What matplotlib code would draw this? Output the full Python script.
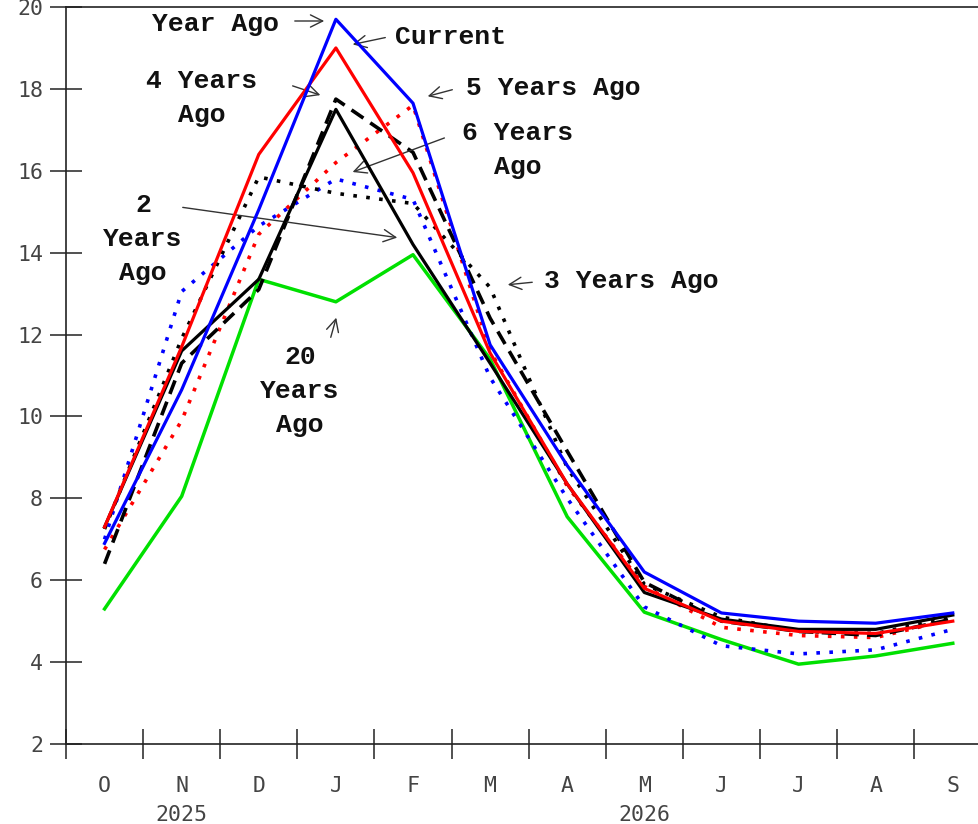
import matplotlib
matplotlib.use("Agg")
import matplotlib.pyplot as plt

months = ["O", "N", "D", "J", "F", "M", "A", "M", "J", "J", "A", "S"]
years = ["2025", "2026"]
year_pos = [1, 7]
yticks = [2, 4, 6, 8, 10, 12, 14, 16, 18, 20]

current = [7.3, 11.7, 16.4, 19.0, 15.95, 11.55, 8.35, 5.8, 5.0, 4.75, 4.7, 5.0]
year_ago = [6.9, 10.65, 15.05, 19.7, 17.65, 11.75, 8.8, 6.2, 5.2, 5.0, 4.95, 5.2]
two_years = [7.3, 11.6, 13.35, 17.5, 14.2, 11.3, 8.35, 5.7, 5.05, 4.8, 4.8, 5.15]
three_years = [7.25, 11.9, 15.85, 15.45, 15.2, 13.15, 8.75, 5.9, 5.1, 4.75, 4.7, 5.1]
four_years = [6.4, 11.3, 13.1, 17.75, 16.45, 12.4, 9.15, 5.95, 5.0, 4.75, 4.65, 5.05]
five_years = [6.75, 9.9, 14.45, 16.2, 17.6, 11.6, 8.3, 5.85, 4.85, 4.65, 4.6, 5.05]
six_years = [7.0, 13.05, 14.65, 15.8, 15.3, 10.95, 8.0, 5.35, 4.4, 4.2, 4.3, 4.8]
twenty_years = [5.3, 8.05, 13.35, 12.8, 13.95, 11.4, 7.55, 5.22, 4.55, 3.95, 4.15, 4.46]

x = list(range(len(months)))

fig = plt.figure(figsize=(9.79, 8.24), dpi=100)
ax = fig.add_axes([66 / 979, 80 / 824, 913 / 979, 737 / 824])

dot = (0, (1, 2.6))
dash = (0, (4, 2.3))
ax.plot(x, twenty_years, color="#00e000", lw=2.5, zorder=2)
ax.plot(x, six_years, color="#0000ff", lw=2.6, ls=dot, zorder=3)
ax.plot(x, five_years, color="#ff0000", lw=2.6, ls=dot, zorder=3)
ax.plot(x, three_years, color="black", lw=2.6, ls=dot, zorder=3)
ax.plot(x, four_years, color="black", lw=2.6, ls=dash, zorder=3)
ax.plot(x, two_years, color="black", lw=2.3, zorder=4)
ax.plot(x, current, color="#ff0000", lw=2.3, zorder=4)
ax.plot(x, year_ago, color="#0000ff", lw=2.3, zorder=5)

ax.set_xlim(-0.5, 11.34)
ax.set_ylim(2, 20)

# ejes: solo izquierda, abajo y arriba
for s in ["left", "bottom", "top"]:
    ax.spines[s].set_color("#222")
    ax.spines[s].set_linewidth(1.2)
ax.spines["right"].set_visible(False)

tickfont = {"family": "DejaVu Sans Mono", "size": 15.5, "color": "#444"}
ax.set_yticks(yticks)
ax.set_yticklabels([str(v) for v in yticks], fontdict=tickfont)
ax.tick_params(axis="y", direction="inout", length=23, width=1.1, color="#222", pad=5)

ax.set_xticks([i + 0.5 for i in range(-1, 11)])
ax.set_xticklabels([])
ax.tick_params(axis="x", which="major", direction="inout", length=22, width=1.1, color="#222")
ax.set_xticks(x, minor=True)
ax.set_xticklabels(months, minor=True, fontdict=tickfont)
ax.tick_params(axis="x", which="minor", length=0, pad=23)

for yr, p in zip(years, year_pos):
    ax.text(p, -0.096, yr, transform=ax.get_xaxis_transform(), ha="center", va="center",
            **tickfont)

# etiquetas con flechas (pixeles de la figura, y desde arriba)
lab = {"family": "Liberation Mono", "size": 19, "weight": "bold", "color": "#111"}
H = 824
notes = [
    ("Year Ago", 216, 24, (292, 21), (327, 21)),
    ("Current", 451, 37, (388, 37), (350, 45)),
    ("4 Years\nAgo", 202, 98, (290, 85), (323, 96)),
    ("5 Years Ago", 553, 88, (455, 89), (425, 97)),
    ("6 Years\nAgo", 518, 150, (447, 137), (350, 173)),
    ("2\nYears\nAgo", 143, 239, (180, 207), (400, 238)),
    ("3 Years Ago", 631, 281, (535, 282), (505, 285)),
    ("20\nYears\nAgo", 300, 391, (330, 340), (337, 315)),
]
for txt, tx, ty, tail, tip in notes:
    fig.text(tx / 979, 1 - ty / H, txt, ha="center", va="center", linespacing=1.55,
             **lab)
    ax.annotate("", xy=(tip[0], H - tip[1]), xytext=(tail[0], H - tail[1]),
                xycoords="figure pixels", textcoords="figure pixels",
                arrowprops=dict(arrowstyle="->", color="#333", lw=1, mutation_scale=22))

fig.savefig("out.png", dpi=100)
